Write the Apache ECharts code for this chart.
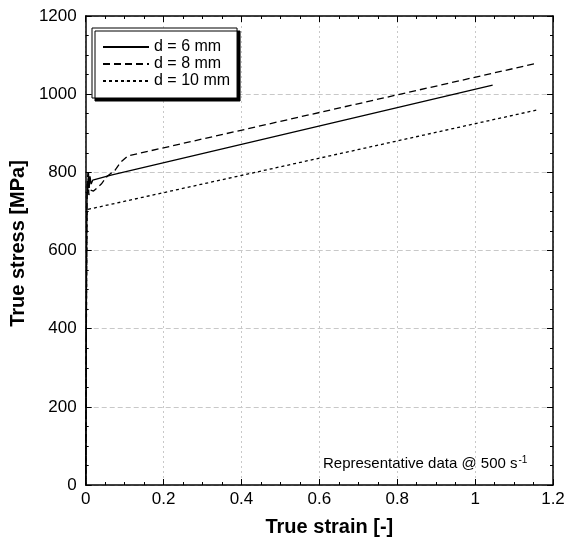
<!DOCTYPE html>
<html>
<head>
<meta charset="utf-8">
<script src="https://cdn.jsdelivr.net/npm/echarts@6/dist/echarts.min.js"></script>
<style>
  html, body { margin: 0; padding: 0; background: #fff; }
  #chart { width: 568px; height: 542px; }
</style>
</head>
<body>
<div id="chart"></div>
<script>
// Stress-strain curves at 500 1/s for three specimen diameters
const seriesNames = ['d = 6 mm', 'd = 8 mm', 'd = 10 mm'];

const strain6 = [0, 0.001, 0.002, 0.003, 0.004, 0.005, 0.007, 0.009, 0.011, 0.014, 0.018, 0.065, 1.045];
const stress6 = [0, 250, 520, 700, 770, 745, 800, 760, 790, 770, 780, 793, 1023];

const strain8 = [0, 0.001, 0.002, 0.003, 0.004, 0.006, 0.008, 0.012, 0.02, 0.04, 0.055, 0.075, 0.09, 0.108, 1.158];
const stress8 = [0, 240, 500, 690, 780, 800, 742, 755, 752, 770, 790, 805, 826, 842, 1079];

const strain10 = [0, 0.001, 0.002, 0.003, 0.005, 1.161];
const stress10 = [0, 230, 480, 690, 705, 960];

const xTicks = { min: 0, max: 1.2, step: 0.2 };
const yTicks = { min: 0, max: 1200, step: 200 };

const lineTypes = ['solid', [7, 4], [3, 3]];

function pairs(xs, ys) {
  return xs.map((x, i) => [x, ys[i]]);
}

const chart = echarts.init(document.getElementById('chart'));
const font = 'Liberation Sans, Arial, sans-serif';

const frameAxis = {
  axisLine: { show: true, onZero: false, lineStyle: { color: '#000', width: 1.5 } },
  axisTick: { show: true, inside: true, length: 6, lineStyle: { color: '#000', width: 1 } },
  minorTick: { show: true, splitNumber: 4, length: 3, lineStyle: { color: '#000', width: 1 } },
  axisLabel: { show: false },
  splitLine: { show: false }
};

chart.setOption({
  animation: false,
  backgroundColor: '#fff',
  grid: { left: 81, right: 15, top: 16, bottom: 53 },
  xAxis: [
    Object.assign({}, frameAxis, {
      type: 'value', position: 'bottom',
      min: xTicks.min, max: xTicks.max, interval: xTicks.step,
      name: 'True strain [-]', nameLocation: 'middle', nameGap: 32,
      nameTextStyle: { fontFamily: font, fontSize: 20, fontWeight: 'bold', color: '#000', padding: [0, 0, 0, 20] },
      axisLabel: { show: true, margin: 6, fontFamily: font, fontSize: 17, color: '#000',
        formatter: v => String(+v.toFixed(1)) },
      splitLine: { show: true, lineStyle: { color: '#c8c8c8', type: [2, 3], width: 1 } }
    }),
    Object.assign({}, frameAxis, {
      type: 'value', position: 'top',
      min: xTicks.min, max: xTicks.max, interval: xTicks.step
    })
  ],
  yAxis: [
    Object.assign({}, frameAxis, {
      type: 'value', position: 'left',
      min: yTicks.min, max: yTicks.max, interval: yTicks.step,
      name: 'True stress [MPa]', nameLocation: 'middle', nameGap: 39,
      nameTextStyle: { fontFamily: font, fontSize: 20, fontWeight: 'bold', color: '#000', padding: [0, 0, 0, 14] },
      axisLabel: { show: true, margin: 9, fontFamily: font, fontSize: 17, color: '#000',
        formatter: v => String(v) },
      splitLine: { show: true, lineStyle: { color: '#c8c8c8', type: [5, 3], width: 1 } }
    }),
    Object.assign({}, frameAxis, {
      type: 'value', position: 'right',
      min: yTicks.min, max: yTicks.max, interval: yTicks.step
    })
  ],
  legend: {
    orient: 'vertical',
    left: 92, top: 28,
    data: seriesNames,
    itemWidth: 46, itemHeight: 1, itemGap: 1,
    padding: [11, 7, 9, 10],
    backgroundColor: '#fff',
    borderColor: '#000', borderWidth: 1,
    shadowColor: '#000', shadowBlur: 0, shadowOffsetX: 3, shadowOffsetY: 3,
    textStyle: { fontFamily: font, fontSize: 16, color: '#000' }
  },
  graphic: [{
    type: 'text',
    left: 323, top: 455,
    style: {
      text: 'Representative data @ 500 s{sup|-1}',
      fontFamily: font, fontSize: 15, fill: '#000',
      rich: { sup: { fontFamily: font, fontSize: 10, verticalAlign: 'top', padding: [0, 0, 8, 1] } }
    }
  }],
  series: [
    [strain6, stress6],
    [strain8, stress8],
    [strain10, stress10]
  ].map((d, i) => ({
    name: seriesNames[i],
    type: 'line',
    data: pairs(d[0], d[1]),
    symbol: 'none',
    showSymbol: false,
    lineStyle: { color: '#000', width: 1.3, type: lineTypes[i] },
    itemStyle: { color: '#000' },
    z: 3
  }))
});
</script>
</body>
</html>
